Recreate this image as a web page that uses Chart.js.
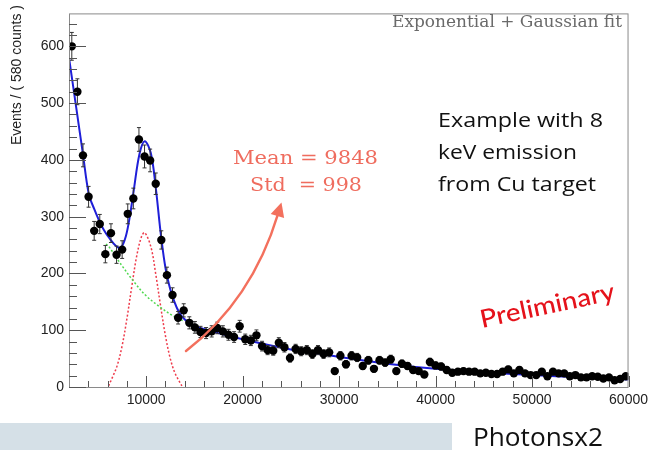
<!DOCTYPE html>
<html>
<head>
<meta charset="utf-8">
<script src="https://cdn.jsdelivr.net/npm/chart.js@4.4.1/dist/chart.umd.min.js"></script>
<style>
  html, body { margin: 0; padding: 0; background: #fff; }
  #wrap { position: relative; width: 653px; height: 450px; }
  canvas { display: block; }
</style>
</head>
<body>
<div id="wrap"><canvas id="c" width="653" height="450"></canvas></div>
<script>
// Histogram binning (counts per 580-wide bin, starting at 2000)
const binStart = 2000;
const binWidth = 580;

// Events per bin
const counts = [
  600, 520, 408, 335, 275, 287, 234, 271, 233, 242,
  305, 332, 436, 406, 399, 358, 259, 197, 162, 122,
  135, 113, 105, 97, 95, 98, 104, 98, 92, 88,
  107, 84, 82, 91, 72, 65, 64, 78, 70, 51,
  67, 63, 65, 58, 65, 58, 61, 28, 55, 40,
  55, 52, 37, 47, 32, 47, 43, 49, 28, 41,
  37, 30, 28, 22, 44, 38, 36, 30, 25, 27,
  28, 27, 27, 24, 25, 23, 23, 27, 31, 24,
  30, 24, 21, 21, 27, 19, 27, 24, 24, 19,
  21, 17, 17, 19, 18, 15, 17, 12, 14, 19
];

// Total fit (exponential background + Gaussian peak)
const fitX = [2000, 2750, 3430, 4050, 4600, 5150, 5600, 6190, 6900, 7400,
              7900, 8300, 8700, 9300, 9848, 10480, 11000, 11520, 12030, 12700,
              13580, 14770, 16830, 20000, 25000, 30000, 35000, 40000, 45000, 50000,
              55000, 60000];
const fitY = [580, 492, 412, 340, 314, 292, 277, 262, 248, 246,
              266, 300, 345, 410, 433, 412, 350, 269, 207, 161,
              127, 110, 98, 84, 66, 53, 41, 32, 26, 21,
              17, 13];

// Background component
const bgX = [5840, 6190, 6900, 7560, 8700, 9970, 11340, 12710, 13800];
const bgY = [252, 246, 228, 212, 186, 161, 142, 126, 117];

// Gaussian component
const gausX = [6100, 6500, 7000, 7500, 8000, 8500, 9000, 9500, 9848,
               10500, 11000, 11500, 12000, 12500, 13000, 13700];
const gausY = [2, 17, 38, 72, 120, 176, 229, 264, 272,
               246, 198, 142, 90, 50, 24, 2];

// Axis labels
const xTicks = [10000, 20000, 30000, 40000, 50000, 60000];
const yTicks = [0, 100, 200, 300, 400, 500, 600];

const points = counts.map((v, i) => ({ x: binStart + binWidth * (i + 0.5), y: v }));
const pairs = (xs, ys) => xs.map((x, i) => ({ x, y: ys[i] }));

const TICK = '#555';

function fitText(ctx, text, x, y, width, size, family, weight) {
  ctx.font = `${weight || 'normal'} ${size}px ${family}`;
  const w = ctx.measureText(text).width;
  ctx.save();
  ctx.translate(x, y);
  ctx.scale(width / w, 1);
  ctx.textAlign = 'left';
  ctx.textBaseline = 'alphabetic';
  ctx.fillText(text, 0, 0);
  ctx.restore();
}

// Poisson error bars under the markers
const errorBars = {
  id: 'errorBars',
  beforeDatasetDraw(chart, args) {
    if (args.index !== 0) return;
    const { ctx, scales: { x, y } } = chart;
    ctx.save();
    ctx.beginPath();
    ctx.rect(chart.chartArea.left, chart.chartArea.top,
             chart.chartArea.right - chart.chartArea.left,
             chart.chartArea.bottom - chart.chartArea.top);
    ctx.clip();
    ctx.strokeStyle = '#333';
    ctx.lineWidth = 1;
    points.forEach(p => {
      const e = Math.sqrt(p.y);
      const px = x.getPixelForValue(p.x);
      const y1 = y.getPixelForValue(p.y + e);
      const y2 = y.getPixelForValue(p.y - e);
      ctx.beginPath();
      ctx.moveTo(px, y1); ctx.lineTo(px, y2);
      ctx.moveTo(px - 2, y1); ctx.lineTo(px + 2, y1);
      ctx.moveTo(px - 2, y2); ctx.lineTo(px + 2, y2);
      ctx.stroke();
    });
    ctx.restore();
  }
};

// Frame, inward ticks and annotations
const decorations = {
  id: 'decorations',
  beforeDraw(chart) {
    const { ctx } = chart;
    ctx.save();
    ctx.fillStyle = '#fff';
    ctx.fillRect(0, 0, chart.width, chart.height);
    ctx.restore();
  },
  afterDraw(chart) {
    const { ctx, chartArea: a, scales: { x, y } } = chart;
    ctx.save();

    // frame
    ctx.strokeStyle = '#8a8a8a';
    ctx.lineWidth = 1;
    ctx.strokeRect(a.left + 0.5, a.top + 0.5, a.right - a.left - 1, a.bottom - a.top);

    // y ticks
    ctx.strokeStyle = TICK;
    ctx.beginPath();
    for (let v = 0; v <= y.max; v += 20) {
      const py = Math.round(y.getPixelForValue(v)) + 0.5;
      const len = v % 100 === 0 ? 17 : 8;
      ctx.moveTo(a.left, py); ctx.lineTo(a.left + len, py);
    }
    // x ticks
    for (let v = 4000; v <= x.max; v += 2000) {
      const px = Math.round(x.getPixelForValue(v)) + 0.5;
      const len = v % 10000 === 0 ? 11 : 6;
      ctx.moveTo(px, a.bottom); ctx.lineTo(px, a.bottom - len);
    }
    ctx.stroke();

    // y axis title
    ctx.save();
    ctx.translate(17, 5);
    ctx.rotate(-Math.PI / 2);
    ctx.fillStyle = '#222';
    ctx.font = '14px "Liberation Sans", Arial, sans-serif';
    ctx.textAlign = 'right';
    ctx.textBaseline = 'middle';
    ctx.fillText('Events / ( 580 counts )', 0, 0);
    ctx.restore();

    // fit title
    ctx.fillStyle = '#6a6a6a';
    fitText(ctx, 'Exponential + Gaussian fit', 392, 27, 230, 16, '"DejaVu Serif", serif');

    // fit parameters
    ctx.fillStyle = '#ef6c5e';
    fitText(ctx, 'Mean = 9848', 233, 164, 145, 19, '"DejaVu Serif", serif');
    fitText(ctx, 'Std  = 998', 250, 191, 112, 19, '"DejaVu Serif", serif');

    // arrow
    ctx.strokeStyle = '#f3705d';
    ctx.fillStyle = '#f3705d';
    ctx.lineWidth = 2.5;
    ctx.lineCap = 'round';
    const sx = 186, sy = 351, cx = 252, cy = 300, ex = 278, ey = 214;
    ctx.beginPath();
    ctx.moveTo(sx, sy);
    ctx.quadraticCurveTo(cx, cy, ex, ey);
    ctx.stroke();
    let dx = ex - cx, dy = ey - cy;
    const dl = Math.hypot(dx, dy); dx /= dl; dy /= dl;
    const tipX = ex + dx * 12, tipY = ey + dy * 12;
    const bx = ex - dx * 2, by = ey - dy * 2;
    ctx.beginPath();
    ctx.moveTo(tipX, tipY);
    ctx.lineTo(bx - dy * 7, by + dx * 7);
    ctx.lineTo(bx + dy * 7, by - dx * 7);
    ctx.closePath();
    ctx.fill();

    // note
    ctx.fillStyle = '#111';
    const noteFont = '"Open Sans", "Liberation Sans", sans-serif';
    fitText(ctx, 'Example with 8', 438, 127, 165, 20, noteFont);
    fitText(ctx, 'keV emission', 438, 159, 139, 20, noteFont);
    fitText(ctx, 'from Cu target', 438, 191, 158, 20, noteFont);

    // preliminary stamp
    ctx.save();
    ctx.translate(482, 328);
    ctx.rotate(-12 * Math.PI / 180);
    ctx.fillStyle = '#e5121b';
    fitText(ctx, 'Preliminary', 0, 0, 137, 25, 'Lato, "Open Sans", sans-serif', '500');
    ctx.restore();

    // footer band
    ctx.fillStyle = '#d5e0e7';
    ctx.fillRect(0, 423, 452, 27);
    ctx.fillStyle = '#111';
    fitText(ctx, 'Photonsx2', 473, 446, 130, 26, noteFont);

    ctx.restore();
  }
};

new Chart(document.getElementById('c'), {
  type: 'scatter',
  data: {
    datasets: [
      {
        label: 'data',
        data: points,
        pointRadius: 4.2,
        pointBackgroundColor: '#000',
        pointBorderWidth: 0,
        showLine: false
      },
      {
        label: 'fit',
        data: pairs(fitX, fitY),
        showLine: true,
        borderColor: '#1f1fd8',
        borderWidth: 2,
        pointRadius: 0,
        tension: 0.35
      },
      {
        label: 'background',
        data: pairs(bgX, bgY),
        showLine: true,
        borderColor: '#4fd84f',
        borderWidth: 1.5,
        borderDash: [2, 2],
        pointRadius: 0,
        tension: 0.35
      },
      {
        label: 'gaussian',
        data: pairs(gausX, gausY),
        showLine: true,
        borderColor: '#ee3b4b',
        borderWidth: 1.5,
        borderDash: [2, 2],
        pointRadius: 0,
        tension: 0.35
      }
    ]
  },
  options: {
    responsive: false,
    animation: false,
    devicePixelRatio: 1,
    layout: { padding: { left: 0, right: 21, top: 3, bottom: 0 } },
    plugins: { legend: { display: false }, tooltip: { enabled: false } },
    scales: {
      x: {
        type: 'linear',
        min: 2000,
        max: 60000,
        grid: { display: false, drawTicks: false },
        border: { display: false },
        afterBuildTicks: s => { s.ticks = xTicks.map(v => ({ value: v })); },
        afterFit: s => { s.height = 63; },
        ticks: {
          padding: 5,
          maxRotation: 0,
          autoSkip: false,
          color: '#222',
          font: { family: '"Liberation Sans", Arial, sans-serif', size: 14 },
          callback: v => String(v)
        }
      },
      y: {
        type: 'linear',
        min: 0,
        max: 658,
        grid: { display: false, drawTicks: false },
        border: { display: false },
        afterBuildTicks: s => { s.ticks = yTicks.map(v => ({ value: v })); },
        afterFit: s => { s.width = 69; },
        ticks: {
          padding: 5,
          color: '#222',
          font: { family: '"Liberation Sans", Arial, sans-serif', size: 14 },
          callback: v => String(v)
        }
      }
    }
  },
  plugins: [decorations, errorBars]
});
</script>
</body>
</html>
